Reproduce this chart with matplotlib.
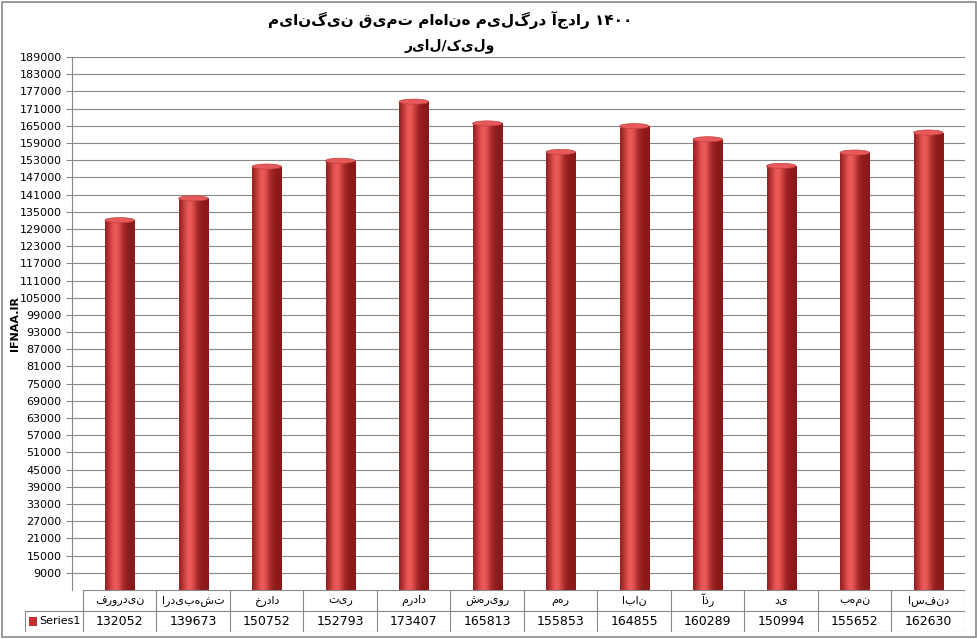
import matplotlib
matplotlib.use("Agg")
import matplotlib.pyplot as plt
import numpy as np
from matplotlib.patches import Rectangle, Ellipse

months = ["فروردین", "اردیبهشت", "خرداد", "تیر", "مرداد", "شهریور", "مهر", "ابان", "آذر", "دی", "بهمن", "اسفند"]
values = [132052, 139673, 150752, 152793, 173407, 165813, 155853, 164855, 160289, 150994, 155652, 162630]
title1 = "میانگین قیمت ماهانه میلگرد آجدار ۱۴۰۰"
title2 = "ریال/کیلو"

plt.rcParams['font.family'] = ['DejaVu Sans']
W, H = 978, 639
fig = plt.figure(figsize=(9.78, 6.39), dpi=100)
fig.patches.append(Rectangle((0.002, 0.003), 0.996, 0.994, transform=fig.transFigure,
                             fill=False, ec='#888888', lw=1.2))
L, R, B, T = 72, 965, 590, 57
ax = fig.add_axes([L / W, 1 - B / H, (R - L) / W, (B - T) / H])
ymin, ymax = 3000, 189000
ax.set_ylim(ymin, ymax)
slot = (R - 83) / len(values)
ax.set_xlim(-(83 - L) / slot, len(values))
ax.set_yticks(np.arange(9000, 189001, 6000))
ax.tick_params(axis='y', labelsize=8, length=4, color='#888888')
ax.set_xticks([])
ax.grid(axis='y', color='#888888', lw=0.8)
ax.set_axisbelow(True)
for s in ['top', 'right', 'bottom']:
    ax.spines[s].set_visible(False)
ax.spines['left'].set_color('#888888')

w = 0.4
grad = np.linspace(0, 1, 64)
prof = np.exp(-((grad - 0.35) ** 2) / 0.06)
cmapc = np.zeros((1, 64, 3))
dark = np.array([0.55, 0.1, 0.1]); light = np.array([0.93, 0.35, 0.35])
cmapc[0] = dark + (light - dark) * prof[:, None]
for i, v in enumerate(values):
    x0 = i + 0.5 - w / 2
    rect = Rectangle((x0, ymin), w, v - ymin, fc='none', ec='none')
    ax.add_patch(rect)
    im = ax.imshow(cmapc, extent=(x0, x0 + w, ymin, v), aspect='auto', zorder=2)
    im.set_clip_path(rect)
    ax.add_patch(Ellipse((i + 0.5, v), w, 1800, fc='#e85a5a', ec='#c04040', lw=0.5, zorder=3))
ax.set_xlim(-(83 - L) / slot, len(values))
ax.set_ylim(ymin, ymax)

ax.set_ylabel("IFNAA.IR", fontsize=8, fontweight='bold')
ax.yaxis.set_label_coords(-(L - 20) / (R - L), 0.5)

# data table: x from 25 to 965, first col 25-83
tL = 25
tax = fig.add_axes([tL / W, (639 - 632) / H, (R - tL) / W, 42 / H])
first = (83 - tL) / slot
tax.set_xlim(-first, len(values)); tax.set_ylim(0, 2); tax.axis('off')
lc = '#888888'
tax.plot([0, len(values)], [2, 2], color=lc, lw=0.8)
tax.plot([-first, len(values)], [1, 1], color=lc, lw=0.8)
tax.plot([-first, len(values)], [0, 0], color=lc, lw=0.8)
tax.plot([-first, -first], [0, 1], color=lc, lw=0.8)
for k in range(len(values) + 1):
    tax.plot([k, k], [0, 2], color=lc, lw=0.8)
for i, (m, v) in enumerate(zip(months, values)):
    tax.text(i + 0.5, 1.5, m, ha='center', va='center', fontsize=8)
    tax.text(i + 0.5, 0.5, str(v), ha='center', va='center', fontsize=9)
tax.add_patch(Rectangle((-first + 0.06, 0.3), 0.1, 0.4, fc='#c03030', ec='none'))
tax.text(-first + 0.2, 0.5, "Series1", ha='left', va='center', fontsize=8)

fig.text(0.46, 0.968, title1, ha='center', va='center', fontsize=11, fontweight='bold')
fig.text(0.46, 0.928, title2, ha='center', va='center', fontsize=10, fontweight='bold')
fig.savefig("out.png", dpi=100)
